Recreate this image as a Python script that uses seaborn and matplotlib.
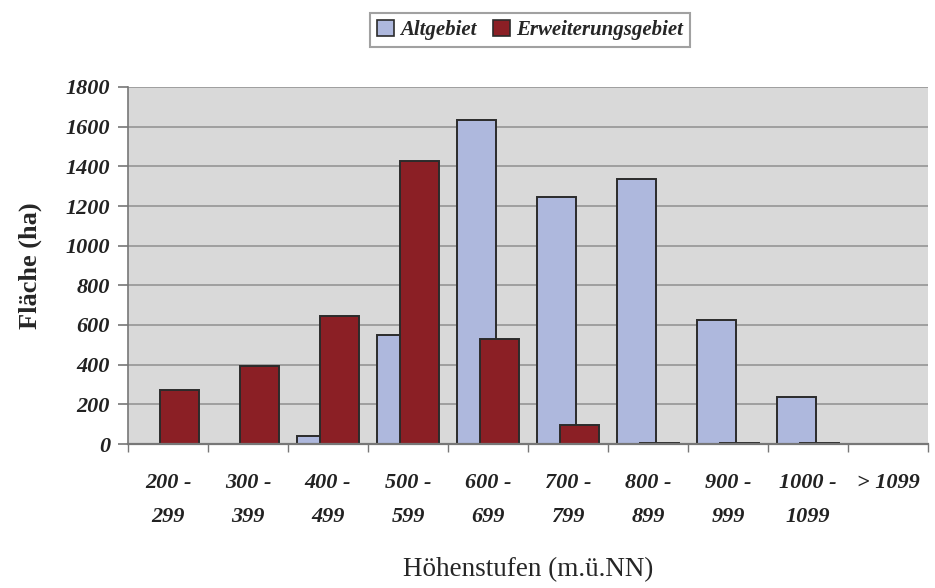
import numpy as np
import pandas as pd
import matplotlib
matplotlib.use("Agg")
import matplotlib.pyplot as plt
import seaborn as sns

# Height classes (m above sea level) and area per class in hectares
stufen = ["200 -\n299", "300 -\n399", "400 -\n499", "500 -\n599", "600 -\n699",
          "700 -\n799", "800 -\n899", "900 -\n999", "1000 -\n1099", "> 1099"]
altgebiet = [0, 0, 40, 548, 1634, 1244, 1335, 625, 235, 0]
erweiterung = [272, 393, 645, 1429, 531, 96, 3, 3, 3, 0]
gebiete = ["Altgebiet", "Erweiterungsgebiet"]
farben = ["#aeb8dd", "#8b1f25"]

df = pd.DataFrame({
    "stufe": stufen * 2,
    "flaeche": altgebiet + erweiterung,
    "gebiet": [gebiete[0]] * len(stufen) + [gebiete[1]] * len(stufen),
})

sns.set_theme(style="white")
plt.rcParams["font.family"] = ["Liberation Serif", "DejaVu Serif"]

fig = plt.figure(figsize=(9.35, 5.88), dpi=100)
ax = fig.add_axes([128 / 935, 1 - 444 / 588, 800 / 935, 357 / 588])
ax.set_facecolor("#d9d9d9")

sns.barplot(data=df, x="stufe", y="flaeche", hue="gebiet", order=stufen,
            hue_order=gebiete, palette=farben, width=0.8, dodge=True,
            edgecolor="#2b2b2b", linewidth=1.4, saturation=1, ax=ax,
            legend=False, zorder=3)

# Excel-style overlapping clustered bars
bar_w, offset = 0.48, 0.145
for p in ax.patches:
    c = p.get_x() + p.get_width() / 2
    grp = round(c)
    sign = -1 if c < grp else 1
    p.set_width(bar_w)
    p.set_x(grp + sign * offset - bar_w / 2)

ax.set_xlim(-0.5, len(stufen) - 0.5)
ax.set_ylim(0, 1800)
ax.set_yticks(np.arange(0, 1801, 200))
ax.yaxis.grid(True, color="#9a9a9a", linewidth=1.3, zorder=0)
ax.set_axisbelow(True)

tick_font = dict(fontsize=16, fontweight="bold", fontstyle="italic")
ax.set_yticklabels([str(v) for v in range(0, 1801, 200)], **tick_font, color="#222222")
ax.set_xticks(range(len(stufen)))
ax.set_xticklabels(stufen, **tick_font, color="#222222", linespacing=1.9)
ax.tick_params(axis="x", length=0, pad=21)
ax.set_xticks(np.arange(-0.5, len(stufen), 1), minor=True)
ax.tick_params(axis="x", which="minor", length=6, direction="out",
               color="#777777", width=1, bottom=True)
ax.tick_params(axis="y", length=7, direction="out", color="#777777",
               width=1.2, left=True, pad=6)

for side in ["top", "right"]:
    ax.spines[side].set_visible(False)
ax.spines["left"].set_color("#777777")
ax.spines["left"].set_linewidth(1.2)
ax.spines["bottom"].set_color("#777777")
ax.spines["bottom"].set_linewidth(1.6)
ax.spines["left"].set_zorder(4)
ax.spines["bottom"].set_zorder(4)

ax.set_ylabel("Fläche (ha)", fontsize=19, fontweight="bold", labelpad=17)
ax.set_xlabel("Höhenstufen (m.ü.NN)", fontsize=19.5, labelpad=22)

handles = [plt.Rectangle((0, 0), 1, 1, facecolor=f, edgecolor="#2b2b2b", linewidth=1.2)
           for f in farben]
leg = fig.legend(handles, gebiete, loc="center", bbox_to_anchor=(530 / 935, 1 - 30 / 588),
                 ncol=2, frameon=True, fancybox=False, edgecolor="#8a8a8a",
                 prop=dict(family=["Liberation Serif"], size=15, weight="bold", style="italic"),
                 handlelength=0.8, handleheight=0.8, handletextpad=0.3,
                 columnspacing=0.8, borderpad=0.35)
leg.get_frame().set_linewidth(1.5)

fig.savefig("out.png", dpi=100)
